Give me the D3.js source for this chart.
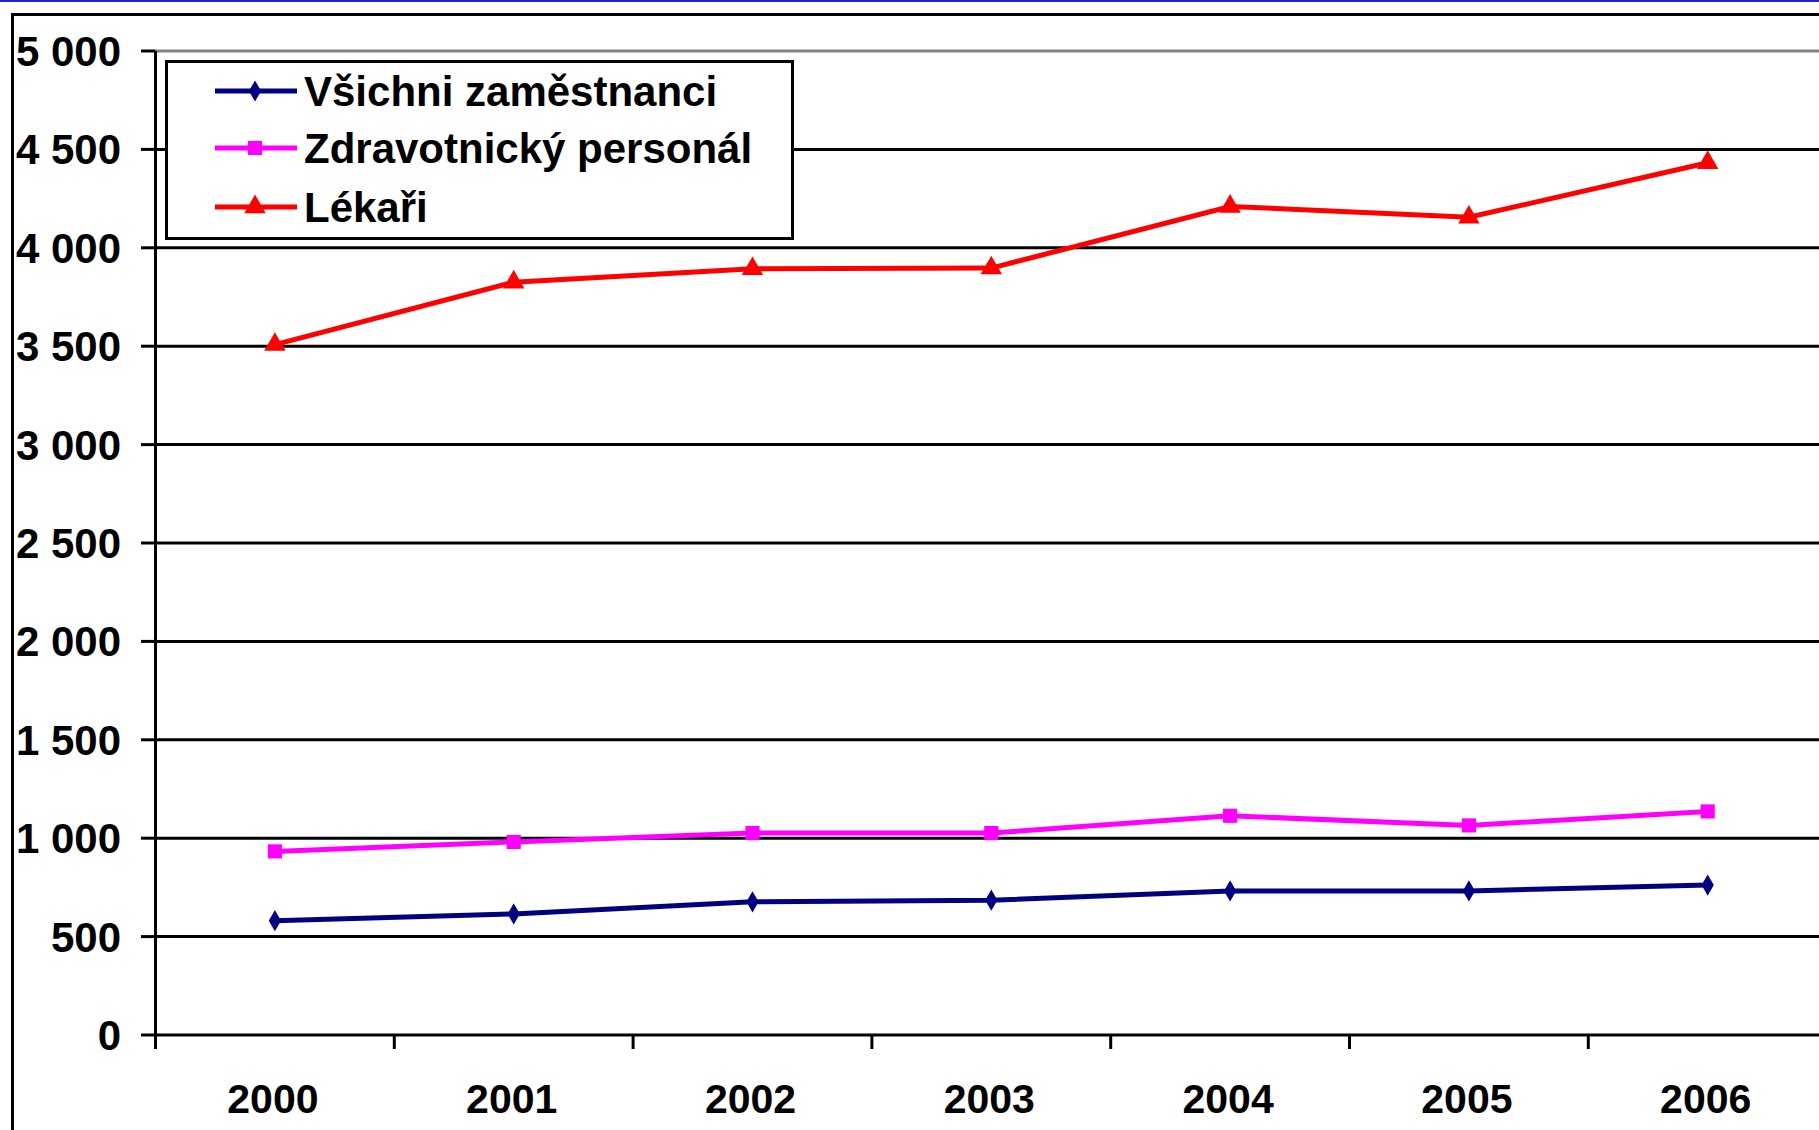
<!DOCTYPE html>
<html>
<head>
<meta charset="utf-8">
<script src="https://cdn.jsdelivr.net/npm/d3@7"></script>
<style>
  body { margin: 0; background: #fff; }
  text { font-family: "Liberation Sans", Arial, sans-serif; font-weight: bold; fill: #000; }
</style>
</head>
<body>
<div id="chart"></div>
<script>
const width = 1819;
const height = 1130;

const years = ["2000", "2001", "2002", "2003", "2004", "2005", "2006"];
const seriesNames = ["Všichni zaměstnanci", "Zdravotnický personál", "Lékaři"];
const allStaff = [581, 615, 677, 685, 732, 732, 762];
const healthStaff = [933, 981, 1026, 1026, 1114, 1065, 1136];
const doctors = [3508, 3825, 3893, 3897, 4210, 4155, 4432];
const yTicks = [0, 500, 1000, 1500, 2000, 2500, 3000, 3500, 4000, 4500, 5000];

const colors = ["#000080", "#ff00ff", "#ff0000"];
const symbols = [d3.symbolDiamond, d3.symbolSquare, d3.symbolTriangle];
const series = [allStaff, healthStaff, doctors];

const fmt = d3.formatLocale({decimal: ",", thousands: " ", grouping: [3], currency: ["", ""]}).format(",d");

const svg = d3.select("#chart").append("svg")
    .attr("width", width)
    .attr("height", height);

// frame
svg.append("rect").attr("x", 0).attr("y", 0).attr("width", width).attr("height", 2).attr("fill", "#1f1fd6");
svg.append("line").attr("x1", 12).attr("x2", width).attr("y1", 14.5).attr("y2", 14.5).attr("stroke", "#000").attr("stroke-width", 3);
svg.append("line").attr("x1", 12.5).attr("x2", 12.5).attr("y1", 13).attr("y2", height).attr("stroke", "#000").attr("stroke-width", 3);

const left = 155.5;
const band = 238.8;
const x = d3.scaleBand().domain(years).range([left, left + band * years.length]).padding(0);
const y = d3.scaleLinear().domain([0, 5000]).range([1035, 51]);
const cx = d => x(d) + x.bandwidth() / 2;

// gridlines
svg.append("g")
    .selectAll("line")
    .data(yTicks.filter(d => d > 0))
    .join("line")
    .attr("x1", left)
    .attr("x2", width)
    .attr("y1", d => y(d))
    .attr("y2", d => y(d))
    .attr("stroke", d => d === 5000 ? "#808080" : "#000")
    .attr("stroke-width", 3);

// y axis
svg.append("line").attr("x1", left).attr("x2", left).attr("y1", y(5000)).attr("y2", 1049).attr("stroke", "#000").attr("stroke-width", 3);
svg.append("line").attr("x1", left).attr("x2", width).attr("y1", y(0)).attr("y2", y(0)).attr("stroke", "#000").attr("stroke-width", 3);

svg.append("g")
    .selectAll("line")
    .data(yTicks)
    .join("line")
    .attr("x1", 141)
    .attr("x2", left)
    .attr("y1", d => y(d))
    .attr("y2", d => y(d))
    .attr("stroke", "#000")
    .attr("stroke-width", 3);

svg.append("g")
    .selectAll("text")
    .data(yTicks)
    .join("text")
    .attr("x", 121)
    .attr("y", d => y(d) + 15)
    .attr("text-anchor", "end")
    .style("font-size", "42px")
    .text(d => fmt(d));

// x ticks at category boundaries
svg.append("g")
    .selectAll("line")
    .data(years.slice(1))
    .join("line")
    .attr("x1", d => x(d))
    .attr("x2", d => x(d))
    .attr("y1", y(0))
    .attr("y2", 1049)
    .attr("stroke", "#000")
    .attr("stroke-width", 3);

svg.append("g")
    .selectAll("text")
    .data(years)
    .join("text")
    .attr("x", d => cx(d) - 2)
    .attr("y", 1113)
    .attr("text-anchor", "middle")
    .style("font-size", "41px")
    .text(d => d);

// lines
const line = d3.line().x((d, i) => cx(years[i])).y(d => y(d));

series.forEach((vals, k) => {
    svg.append("path")
        .datum(vals)
        .attr("fill", "none")
        .attr("stroke", colors[k])
        .attr("stroke-width", 5)
        .attr("d", line);
    svg.append("g")
        .selectAll("path")
        .data(vals)
        .join("path")
        .attr("transform", (d, i) => `translate(${cx(years[i])},${y(d)})`)
        .attr("fill", colors[k])
        .attr("d", d3.symbol().type(symbols[k]).size(k === 0 ? 130 : 200));
});

// legend
const legend = svg.append("g");
legend.append("rect")
    .attr("x", 166.5)
    .attr("y", 61.5)
    .attr("width", 626)
    .attr("height", 177)
    .attr("fill", "#fff")
    .attr("stroke", "#000")
    .attr("stroke-width", 3);

const rowY = [91, 148, 207];
seriesNames.forEach((name, k) => {
    const g = legend.append("g").attr("transform", `translate(0,${rowY[k]})`);
    g.append("line")
        .attr("x1", 215).attr("x2", 297)
        .attr("y1", 0).attr("y2", 0)
        .attr("stroke", colors[k])
        .attr("stroke-width", 5);
    g.append("path")
        .attr("transform", "translate(255,0)")
        .attr("fill", colors[k])
        .attr("d", d3.symbol().type(symbols[k]).size(k === 0 ? 130 : 200));
    g.append("text")
        .attr("x", 304)
        .attr("y", 15)
        .style("font-size", "42px")
        .text(name);
});
</script>
</body>
</html>
